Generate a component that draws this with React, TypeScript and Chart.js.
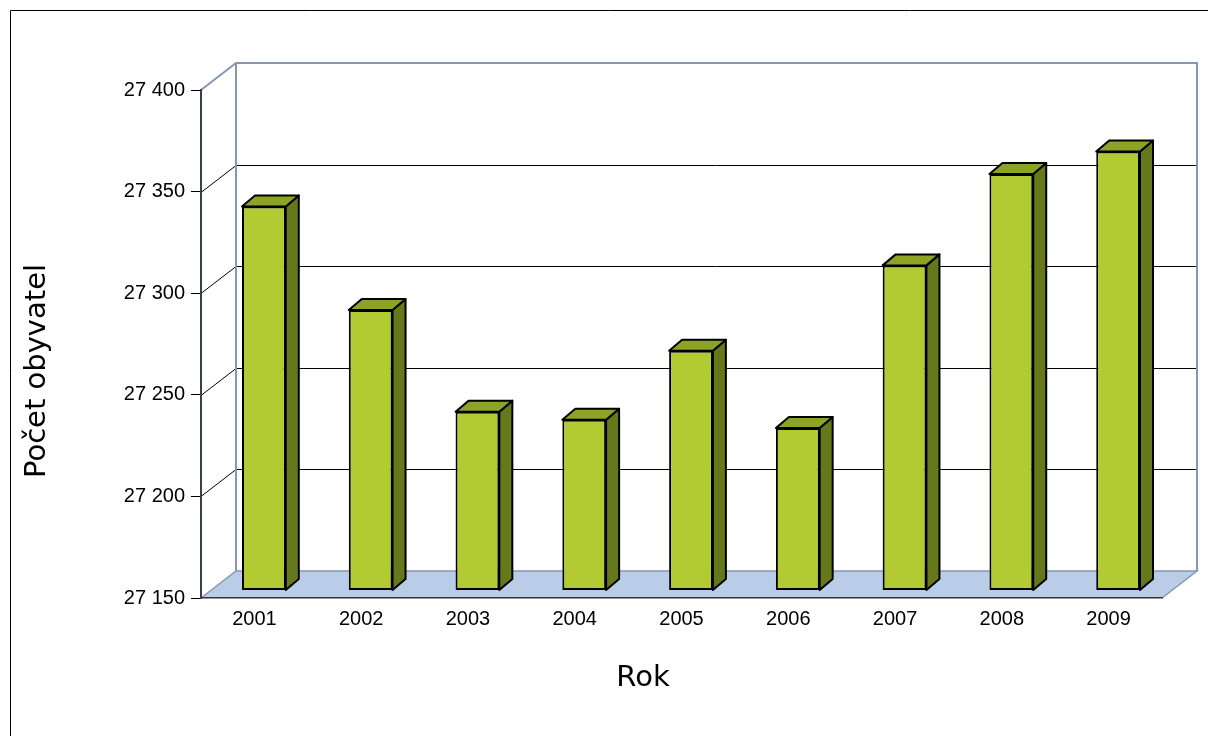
import React, { useEffect, useRef } from 'react';
import { Chart, registerables } from 'chart.js';

Chart.register(...registerables);

// ---- data ----
const years: string[] = ['2001', '2002', '2003', '2004', '2005', '2006', '2007', '2008', '2009'];
const population: number[] = [27339, 27288, 27238, 27234, 27268, 27230, 27310, 27355, 27366];
const yTickValues: number[] = [27150, 27200, 27250, 27300, 27350, 27400];
const yAxisTitle = 'Počet obyvatel';
const xAxisTitle = 'Rok';

// ---- 3D geometry / style ----
const WALL_DX = 35;
const WALL_DY = -27;
const BAR_DX = 9.5;
const BAR_DY = -7.5;
const DEPTH_DX = 13;
const DEPTH_DY = -11;

const FRONT = '#b3cb33';
const TOP = '#8ca326';
const SIDE = '#66781c';
const FLOOR = '#b9cde9';
const EDGE = '#8797b2';

const fmt = (v: number) => String(v).replace(/\B(?=(\d{3})+(?!\d))/g, ' ');

const scenePlugin = {
  id: 'scene3d',
  beforeDraw(chart: any) {
    const { ctx, chartArea, scales } = chart;
    const y = scales.y;
    const { left, right } = chartArea;
    const ty = y.getPixelForValue(y.max);
    const by = y.getPixelForValue(y.min);
    ctx.save();
    ctx.fillStyle = '#ffffff';
    ctx.fillRect(0, 0, chart.width, chart.height);
    // outer frame
    ctx.strokeStyle = '#000';
    ctx.lineWidth = 1;
    ctx.beginPath();
    ctx.moveTo(10.5, chart.height + 5);
    ctx.lineTo(10.5, 10.5);
    ctx.lineTo(chart.width + 5, 10.5);
    ctx.stroke();

    // floor
    ctx.beginPath();
    ctx.moveTo(left, by);
    ctx.lineTo(left + WALL_DX, by + WALL_DY);
    ctx.lineTo(right + WALL_DX, by + WALL_DY);
    ctx.lineTo(right, by);
    ctx.closePath();
    ctx.fillStyle = FLOOR;
    ctx.fill();
    ctx.strokeStyle = EDGE;
    ctx.lineWidth = 1.5;
    ctx.beginPath();
    ctx.moveTo(left, by);
    ctx.lineTo(left + WALL_DX, by + WALL_DY);
    ctx.lineTo(right + WALL_DX, by + WALL_DY);
    ctx.lineTo(right, by);
    ctx.stroke();

    // gridlines on side + back wall
    ctx.strokeStyle = '#000';
    ctx.lineWidth = 1;
    for (const v of yTickValues) {
      if (v <= y.min || v >= y.max) continue;
      const py = Math.round(y.getPixelForValue(v)) + 0.5;
      ctx.beginPath();
      ctx.moveTo(left, py);
      ctx.lineTo(left + WALL_DX, py + WALL_DY);
      ctx.lineTo(right + WALL_DX, py + WALL_DY);
      ctx.stroke();
    }

    // wall outline
    ctx.strokeStyle = EDGE;
    ctx.lineWidth = 2;
    ctx.beginPath();
    ctx.moveTo(left, ty);
    ctx.lineTo(left + WALL_DX, ty + WALL_DY);
    ctx.lineTo(right + WALL_DX, ty + WALL_DY);
    ctx.lineTo(right + WALL_DX, by + WALL_DY);
    ctx.moveTo(left + WALL_DX, ty + WALL_DY);
    ctx.lineTo(left + WALL_DX, by + WALL_DY);
    ctx.stroke();
    ctx.restore();
  },
  beforeDatasetDraw(chart: any, args: any) {
    const ctx = chart.ctx;
    ctx.save();
    ctx.translate(BAR_DX, BAR_DY);
    ctx.lineWidth = 2;
    ctx.lineJoin = 'round';
    ctx.strokeStyle = '#000';
    for (const el of args.meta.data) {
      const { x, y, base, width } = el.getProps(['x', 'y', 'base', 'width'], true);
      const l = x - width / 2;
      const r = x + width / 2;
      const t = Math.min(y, base);
      const b = Math.max(y, base);
      // side
      ctx.beginPath();
      ctx.moveTo(r, t);
      ctx.lineTo(r + DEPTH_DX, t + DEPTH_DY);
      ctx.lineTo(r + DEPTH_DX, b + DEPTH_DY);
      ctx.lineTo(r, b);
      ctx.closePath();
      ctx.fillStyle = SIDE;
      ctx.fill();
      ctx.stroke();
      // top
      ctx.beginPath();
      ctx.moveTo(l, t);
      ctx.lineTo(l + DEPTH_DX, t + DEPTH_DY);
      ctx.lineTo(r + DEPTH_DX, t + DEPTH_DY);
      ctx.lineTo(r, t);
      ctx.closePath();
      ctx.fillStyle = TOP;
      ctx.fill();
      ctx.stroke();
    }
  },
  afterDatasetDraw(chart: any) {
    chart.ctx.restore();
  },
  afterDraw(chart: any) {
    const ctx = chart.ctx;
    ctx.save();
    ctx.fillStyle = '#000';
    ctx.font = '29px "DejaVu Sans"';
    ctx.textAlign = 'center';
    ctx.textBaseline = 'alphabetic';
    ctx.fillText(xAxisTitle, 643, 686);
    ctx.translate(45, 371);
    ctx.rotate(-Math.PI / 2);
    ctx.fillText(yAxisTitle, 0, 0);
    ctx.restore();
  },
};

export default function App() {
  const ref = useRef<HTMLCanvasElement | null>(null);

  useEffect(() => {
    document.body.style.margin = '0';
    document.body.style.overflow = 'hidden';
    const canvas = ref.current;
    if (!canvas) return;
    const chart = new Chart(canvas, {
      type: 'bar',
      data: {
        labels: years,
        datasets: [
          {
            data: population,
            base: yTickValues[0],
            backgroundColor: FRONT,
            borderColor: '#000',
            borderWidth: 2,
            borderSkipped: false,
            categoryPercentage: 1,
            barPercentage: 0.41,
            clip: false as any,
          } as any,
        ],
      },
      options: {
        animation: false,
        responsive: false,
        devicePixelRatio: 1,
        layout: { padding: { top: 90, right: 46, bottom: 0, left: 0 } },
        plugins: { legend: { display: false }, tooltip: { enabled: false } },
        scales: {
          x: {
            offset: true,
            grid: { display: false, drawTicks: false },
            border: { display: true, color: '#333', width: 1.5 },
            ticks: {
              color: '#000',
              padding: 9,
              font: { family: '"Liberation Sans", Arial, sans-serif', size: 20 },
            },
            afterFit: (s: any) => {
              s.height = 138;
            },
          },
          y: {
            min: yTickValues[0],
            max: yTickValues[yTickValues.length - 1],
            afterBuildTicks: (s: any) => {
              s.ticks = yTickValues.map((v) => ({ value: v }));
            },
            grid: { drawOnChartArea: false, drawTicks: true, tickLength: 10, color: '#000', lineWidth: 1 },
            border: { display: true, color: '#3a3f48', width: 2 },
            ticks: {
              color: '#000',
              padding: 6,
              font: { family: '"Liberation Sans", Arial, sans-serif', size: 20 },
              callback: (v: any) => fmt(Number(v)),
            },
            afterFit: (s: any) => {
              s.width = 201;
            },
          },
        },
      },
      plugins: [scenePlugin],
    });
    return () => chart.destroy();
  }, []);

  return <canvas ref={ref} width={1208} height={736} style={{ display: 'block', width: 1208, height: 736 }} />;
}
